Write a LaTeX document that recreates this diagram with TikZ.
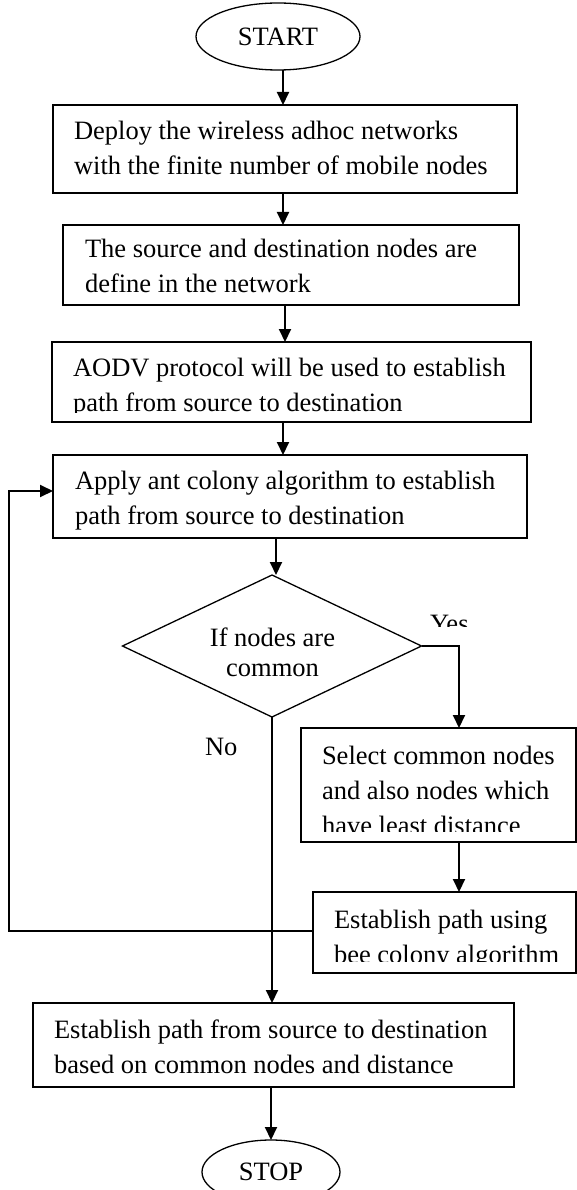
\documentclass[tikz,border=0pt]{standalone}
\usepackage{fontspec}
\setmainfont{Liberation Serif}
\usetikzlibrary{arrows.meta,shapes.geometric}
\newcommand\mytab[1]{\begin{tabular}[t]{@{}l@{}}#1\end{tabular}}
\newcommand\myctab[1]{\begin{tabular}[t]{@{}c@{}}#1\end{tabular}}
\begin{document}
\begin{tikzpicture}[x=1pt,y=-1pt,
  font=\fontsize{26.5}{35}\selectfont,
  boxx/.style={draw,line width=1.5pt,inner sep=0pt,outer sep=0pt},
  oval/.style={ellipse,draw,line width=1.3pt,inner sep=0pt,outer sep=0pt},
  dia/.style={diamond,draw,line width=1.3pt,inner sep=0pt,outer sep=0pt},
  txt/.style={anchor=base west,inner sep=0pt,outer sep=0pt},
  arr/.style={line width=2pt,-{Triangle[length=13pt,width=12pt]}}]
\useasboundingbox (0,0) rectangle (577,1190);
\clip (0,0) rectangle (577,1190);

% shapes
\node[oval,minimum width=164pt,minimum height=67pt] (start) at (278,36.5) {START};
\node[boxx,minimum width=464pt,minimum height=88pt] (box1) at (285,149) {};
\node[boxx,minimum width=456pt,minimum height=80pt] (box2) at (291,265) {};
\node[boxx,minimum width=479pt,minimum height=80pt] (box3) at (291.5,382) {};
\node[boxx,minimum width=474pt,minimum height=83pt] (box4) at (290,496.5) {};
\node[dia,minimum width=299pt,minimum height=142pt] (dec) at (272,646) {};
\node[boxx,minimum width=275pt,minimum height=114pt] (sel) at (438.5,785) {};
\node[boxx,minimum width=263pt,minimum height=81pt] (bee) at (444.5,932.5) {};
\node[boxx,minimum width=481pt,minimum height=84pt] (fin) at (273.5,1045) {};
\node[oval,minimum width=138pt,minimum height=64pt] (stop) at (271,1172) {STOP};

% texts
\node[txt] (t1) at (74,140) {\mytab{Deploy the wireless adhoc networks\\with the finite number of mobile nodes}};
\node[txt] (t2) at (85,258) {\mytab{The source and destination nodes are\\define in the network}};
\begin{scope}
\clip (55,345) rectangle (528,412);
\node[txt] (t3) at (73,376) {\mytab{AODV protocol will be used to establish\\path from source to destination}};
\end{scope}
\node[txt] (t4) at (75,489) {\mytab{Apply ant colony algorithm to establish\\path from source to destination}};
\node[anchor=base,inner sep=0pt,font=\fontsize{26.5}{30}\selectfont] (t5) at (272.5,646) {\myctab{If nodes are\\common}};
\begin{scope}
\clip (304,731) rectangle (574,831);
\node[txt] (t6) at (322,764) {\mytab{Select common nodes\\and also nodes which\\have least distance}};
\end{scope}
\begin{scope}
\clip (316,895) rectangle (574,961);
\node[txt] (t7) at (334,928) {\mytab{Establish path using\\bee colony algorithm}};
\end{scope}
\node[txt] (t8) at (54,1038) {\mytab{Establish path from source to destination\\based on common nodes and distance}};
\begin{scope}
\clip (420,600) rectangle (480,626);
\node[txt] (yes) at (430,632) {Yes};
\end{scope}
\node[txt] (no) at (205,755) {No};

% connectors
\draw[arr] ([xshift=5pt]start.south) -- ([xshift=-2pt]box1.north);
\draw[arr] ([xshift=-2pt]box1.south) -- ([xshift=-8pt]box2.north);
\draw[arr] ([xshift=-6pt]box2.south) -- ([xshift=-6.5pt]box3.north);
\draw[arr] ([xshift=-8.5pt]box3.south) -- ([xshift=-7pt]box4.north);
\draw[arr] ([xshift=-14pt]box4.south) -- ([xshift=4pt]dec.north);
\draw[arr] (dec.east) -| ([xshift=20.5pt]sel.north);
\draw[arr] ([xshift=20.5pt]sel.south) -- ([xshift=14.5pt]bee.north);
\coordinate (lp) at (9,931);
\draw[arr] ([yshift=1.5pt]bee.west) -- (lp) |- ([yshift=5.5pt]box4.west);
\draw[arr] (dec.south) -- (dec.south |- fin.north);
\draw[arr] ([xshift=-2.5pt]fin.south) -- (stop.north);
\end{tikzpicture}
\end{document}
